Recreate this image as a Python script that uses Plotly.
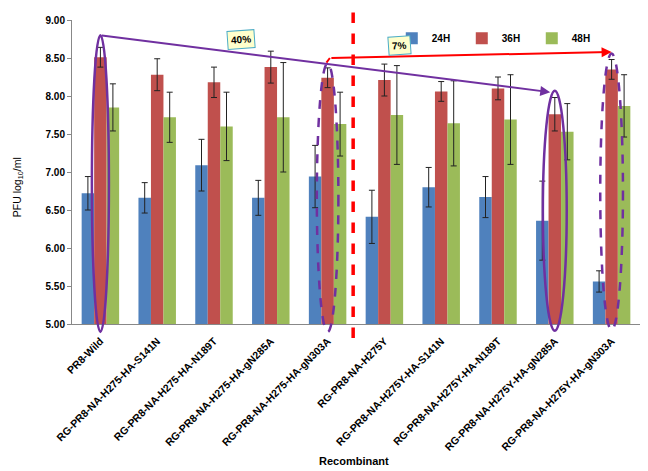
import plotly.graph_objects as go

categories = ["PR8-Wild", "RG-PR8-NA-H275-HA-S141N", "RG-PR8-NA-H275-HA-N189T",
              "RG-PR8-NA-H275-HA-gN285A", "RG-PR8-NA-H275-HA-gN303A",
              "RG-PR8-NA-H275Y", "RG-PR8-NA-H275Y-HA-S141N", "RG-PR8-NA-H275Y-HA-N189T",
              "RG-PR8-NA-H275Y-HA-gN285A", "RG-PR8-NA-H275Y-HA-gN303A"]
h24 = [6.72, 6.66, 7.09, 6.66, 6.94, 6.41, 6.80, 6.67, 6.36, 5.56]
e24 = [0.22, 0.20, 0.34, 0.23, 0.41, 0.35, 0.26, 0.27, 0.52, 0.14]
h36 = [8.51, 8.28, 8.18, 8.38, 8.24, 8.21, 8.06, 8.10, 7.76, 8.35]
e36 = [0.13, 0.21, 0.20, 0.21, 0.13, 0.21, 0.13, 0.15, 0.22, 0.13]
h48 = [7.85, 7.72, 7.60, 7.72, 7.63, 7.75, 7.64, 7.69, 7.53, 7.87]
e48 = [0.31, 0.33, 0.45, 0.72, 0.42, 0.65, 0.56, 0.59, 0.37, 0.41]
series_names = ["24H", "36H", "48H"]
colors = ["#4F81BD", "#C0504D", "#9BBB59"]
y_ticks = [5.0, 5.5, 6.0, 6.5, 7.0, 7.5, 8.0, 8.5, 9.0]

FONT = "Liberation Sans, Arial, sans-serif"
PURPLE = "#7030A0"
RED = "#FF0000"

fig = go.Figure()
for name, vals, errs, col in zip(series_names, [h24, h36, h48], [e24, e36, e48], colors):
    fig.add_trace(go.Bar(
        x=categories, y=vals, name=name, marker_color=col, marker_line_width=0,
        error_y=dict(type="data", array=errs, visible=True, color="#222222",
                     thickness=1, width=3),
    ))

def py(v):
    return (v - 5.0) / 4.0

shapes = [
    dict(type="circle", xref="x", yref="paper", x0=-0.15, x1=0.15, y0=py(4.895), y1=py(8.80),
         line=dict(color=PURPLE, width=2.5)),
    dict(type="circle", xref="x", yref="paper", x0=3.81, x1=4.19, y0=py(4.895), y1=py(8.43),
         line=dict(color=PURPLE, width=2.5, dash="dash")),
    dict(type="circle", xref="x", yref="paper", x0=7.79, x1=8.21, y0=py(4.91), y1=py(8.07),
         line=dict(color=PURPLE, width=2.5)),
    dict(type="circle", xref="x", yref="paper", x0=8.80, x1=9.20, y0=py(4.92), y1=py(8.56),
         line=dict(color=PURPLE, width=2.5, dash="dash")),
    dict(type="line", xref="x", yref="paper", x0=4.45, x1=4.45, y0=-0.046, y1=1.026,
         line=dict(color=RED, width=3.5, dash="dash")),
    dict(type="line", xref="x", yref="y", x0=3.98, x1=4.04, y0=8.44, y1=8.50,
         line=dict(color=RED, width=2)),
]

annotations = [
    dict(x=7.92, y=8.05, ax=0.0, ay=8.80, xref="x", yref="y", axref="x", ayref="y",
         showarrow=True, arrowhead=2, arrowsize=1, arrowwidth=2, arrowcolor=PURPLE, text=""),
    dict(x=9.0, y=8.58, ax=4.04, ay=8.50, xref="x", yref="y", axref="x", ayref="y",
         showarrow=True, arrowhead=2, arrowsize=1, arrowwidth=2, arrowcolor=RED, text=""),
    dict(x=2.48, y=8.75, xref="x", yref="y", text="<b>40%</b>", showarrow=False,
         bgcolor="#FFFFCC", bordercolor="#4BACC6", borderwidth=1, borderpad=3,
         textangle=-4, font=dict(family=FONT, size=10, color="#000")),
    dict(x=5.27, y=8.66, xref="x", yref="y", text="<b>7%</b>", showarrow=False,
         bgcolor="#FFFFCC", bordercolor="#4BACC6", borderwidth=1, borderpad=3,
         textangle=-4, font=dict(family=FONT, size=10, color="#000")),
    dict(x=-0.095, y=0.45, xref="paper", yref="paper", text="PFU log<sub>10</sub>/ml",
         textangle=-90, showarrow=False, xanchor="center", yanchor="middle",
         font=dict(family=FONT, size=10.5, color="#000")),
    dict(x=0.497, y=-0.45, xref="paper", yref="paper", text="<b>Recombinant</b>",
         showarrow=False, xanchor="center", yanchor="middle",
         font=dict(family=FONT, size=11, color="#000")),
]

fig.update_layout(
    width=648, height=471,
    margin=dict(l=72, r=8, t=20, b=147, autoexpand=False),
    paper_bgcolor="white", plot_bgcolor="white",
    barmode="group", bargap=0.34, bargroupgap=0,
    font=dict(family=FONT, color="#000"),
    showlegend=True,
    legend=dict(orientation="h", x=0.563, y=0.94, xanchor="left", yanchor="middle",
                font=dict(family=FONT, size=10, weight="bold"),
                entrywidth=25, entrywidthmode="pixels", itemwidth=30,
                bgcolor="rgba(0,0,0,0)"),
    shapes=shapes,
    annotations=annotations,
)
fig.update_xaxes(
    type="category", range=[-0.5, 9.5], tickangle=-45,
    tickfont=dict(family=FONT, size=10.5, weight="bold"),
    showline=True, linecolor="#888888", linewidth=1,
    ticks="outside", ticklen=6, tickcolor="rgba(0,0,0,0)", showgrid=False,
)
fig.update_yaxes(
    range=[5.0, 9.0], tickvals=y_ticks, ticktext=[f"{v:.2f}" for v in y_ticks],
    tickfont=dict(family=FONT, size=10, weight="bold"),
    showline=True, linecolor="#888888", linewidth=1, ticks="outside", ticklen=4,
    tickcolor="#888888", showgrid=False, zeroline=False,
)

fig.write_html("out.html")
